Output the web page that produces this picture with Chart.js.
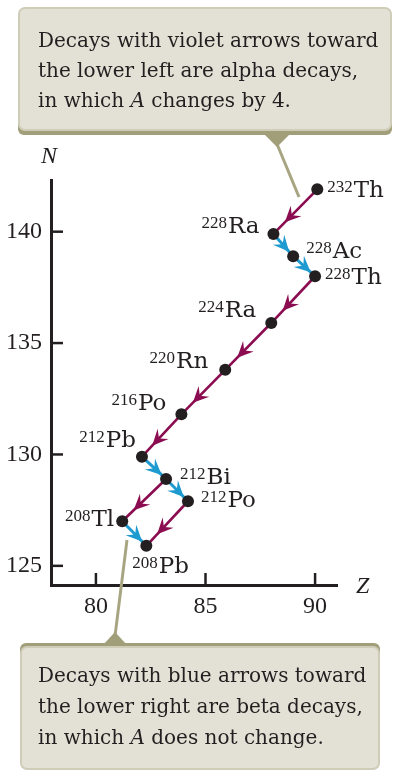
<!DOCTYPE html>
<html>
<head>
<meta charset="utf-8">
<script src="https://cdn.jsdelivr.net/npm/chart.js@4.4.1/dist/chart.umd.min.js"></script>
<style>
  body { margin: 0; background: #fff; }
  #wrap { width: 400px; height: 777px; }
</style>
</head>
<body>
<div id="wrap"><canvas id="decay-chart" width="400" height="777"></canvas></div>
<script>
/* Thorium series (Z = protons, N = neutrons) */
let nuclides = ['Th', 'Ra', 'Ac', 'Th', 'Ra', 'Rn', 'Po', 'Pb', 'Bi', 'Po', 'Tl', 'Pb']
let massNumbers = [232, 228, 228, 228, 224, 220, 216, 212, 212, 212, 208, 208]
let zValues = [90.1, 88.1, 89.0, 90.0, 88.0, 85.9, 83.9, 82.1, 83.2, 84.2, 81.2, 82.3]
let nValues = [141.9, 139.9, 138.9, 138.0, 135.9, 133.8, 131.8, 129.9, 128.9, 127.9, 127.0, 125.9]

// decays, as index of parent -> index of daughter
let alphaFrom = [0, 3, 4, 5, 6, 8, 9]
let alphaTo = [1, 4, 5, 6, 7, 10, 11]
let betaFrom = [1, 2, 7, 8, 10]
let betaTo = [2, 3, 8, 9, 11]

let zTicks = [80, 85, 90]
let nTicks = [125, 130, 135, 140]

let topNote = [['Decays with violet arrows toward'], ['the lower left are alpha decays,'], ['in which ', '*A', ' changes by 4.']]
let bottomNote = [['Decays with blue arrows toward'], ['the lower right are beta decays,'], ['in which ', '*A', ' does not change.']]

/* label placement next to each dot: side, x gap, baseline shift */
let labelSpots = [
    ['r', 10, 8], ['l', 14, -1], ['r', 13, 2], ['r', 10, 8], ['l', 15, -6], ['l', 17, -2],
    ['l', 15, -4], ['l', 6, -10], ['r', 14, 5], ['r', 13, 6], ['l', 8, 5], ['b', -14, 27]
]

let ink = '#231f20'
let violet = '#8b0c50'
let blue = '#1d9ad0'
let serif = '"Liberation Serif", "Times New Roman", serif'
let wideSerif = '"DejaVu Serif", serif'

function arrow(ctx, x1, y1, x2, y2, color, lineW, tipBack) {
    let dx = x2 - x1, dy = y2 - y1
    let len = Math.sqrt(dx * dx + dy * dy)
    let ux = dx / len, uy = dy / len
    let nx = -uy, ny = ux
    ctx.strokeStyle = color
    ctx.fillStyle = color
    ctx.lineWidth = lineW
    ctx.beginPath()
    ctx.moveTo(x1, y1)
    ctx.lineTo(x2, y2)
    ctx.stroke()
    let tipDist = tipBack < 1 ? len * tipBack : len - tipBack
    let tx = x1 + ux * tipDist, ty = y1 + uy * tipDist
    let L = 16, W = 7.5
    ctx.beginPath()
    ctx.moveTo(tx, ty)
    ctx.lineTo(tx - ux * L + nx * W, ty - uy * L + ny * W)
    ctx.lineTo(tx - ux * L * 0.62, ty - uy * L * 0.62)
    ctx.lineTo(tx - ux * L - nx * W, ty - uy * L - ny * W)
    ctx.closePath()
    ctx.fill()
}

function noteBox(ctx, x, y, w, h, shadowOnTop) {
    ctx.fillStyle = '#a19e7a'
    ctx.beginPath()
    if (shadowOnTop) ctx.roundRect(x, y - 3, w, h, 6)
    else ctx.roundRect(x, y + 4, w, h, 6)
    ctx.fill()
    ctx.fillStyle = '#e3e1d5'
    ctx.strokeStyle = '#cfcdb8'
    ctx.lineWidth = 2
    ctx.beginPath()
    ctx.roundRect(x + 1, y + 1, w - 2, h - 2, 6)
    ctx.fill()
    ctx.stroke()
}

function noteText(ctx, lines, x, y0, lineGap) {
    ctx.fillStyle = ink
    ctx.textBaseline = 'alphabetic'
    ctx.textAlign = 'left'
    lines.forEach(function (parts, i) {
        let cx = x
        parts.forEach(function (p) {
            let italic = p[0] === '*'
            let txt = italic ? p.slice(1) : p
            ctx.font = (italic ? 'italic ' : '') + '20px ' + wideSerif
            ctx.fillText(txt, cx, y0 + i * lineGap)
            cx += ctx.measureText(txt).width
        })
    })
}

let decorations = {
    id: 'decorations',
    beforeDatasetsDraw: function (chart) {
        let ctx = chart.ctx
        let xs = chart.scales.x, ys = chart.scales.y
        let area = chart.chartArea
        ctx.save()
        // inward tick marks
        ctx.strokeStyle = ink
        ctx.lineWidth = 2.5
        zTicks.forEach(function (v) {
            let px = xs.getPixelForValue(v)
            ctx.beginPath(); ctx.moveTo(px, area.bottom); ctx.lineTo(px, area.bottom - 12); ctx.stroke()
        })
        nTicks.forEach(function (v) {
            let py = ys.getPixelForValue(v)
            ctx.beginPath(); ctx.moveTo(area.left, py); ctx.lineTo(area.left + 12, py); ctx.stroke()
        })
        // axis names
        ctx.fillStyle = ink
        ctx.font = 'italic 24px ' + serif
        ctx.textAlign = 'left'
        ctx.fillText('N', 41, 163)
        ctx.fillText('Z', 356, 593)

        // callout pointers
        ctx.strokeStyle = '#a8a582'
        ctx.lineWidth = 3
        ctx.beginPath(); ctx.moveTo(277, 144); ctx.lineTo(299, 197); ctx.stroke()
        ctx.beginPath(); ctx.moveTo(115, 636); ctx.lineTo(127, 540); ctx.stroke()

        // decay arrows
        for (let i = 0; i < alphaFrom.length; i++) {
            let a = alphaFrom[i], b = alphaTo[i]
            arrow(ctx, xs.getPixelForValue(zValues[a]), ys.getPixelForValue(nValues[a]),
                xs.getPixelForValue(zValues[b]), ys.getPixelForValue(nValues[b]), violet, 2.6, 0.74)
        }
        for (let i = 0; i < betaFrom.length; i++) {
            let a = betaFrom[i], b = betaTo[i]
            arrow(ctx, xs.getPixelForValue(zValues[a]), ys.getPixelForValue(nValues[a]),
                xs.getPixelForValue(zValues[b]), ys.getPixelForValue(nValues[b]), blue, 3, 6)
        }
        ctx.restore()
    },
    afterDatasetsDraw: function (chart) {
        let ctx = chart.ctx
        let xs = chart.scales.x, ys = chart.scales.y
        ctx.save()
        ctx.fillStyle = ink
        ctx.textBaseline = 'alphabetic'
        ctx.textAlign = 'left'
        for (let i = 0; i < nuclides.length; i++) {
            let px = xs.getPixelForValue(zValues[i])
            let py = ys.getPixelForValue(nValues[i])
            let sup = String(massNumbers[i])
            ctx.font = '17px ' + serif
            let supW = ctx.measureText(sup).width + 1
            ctx.font = '23px ' + wideSerif
            let symW = ctx.measureText(nuclides[i]).width
            let spot = labelSpots[i]
            let x0
            if (spot[0] === 'r') x0 = px + spot[1]
            else if (spot[0] === 'l') x0 = px - spot[1] - supW - symW
            else x0 = px + spot[1]
            let base = py + spot[2]
            ctx.font = '17px ' + serif
            ctx.fillText(sup, x0, base - 5)
            ctx.font = '23px ' + wideSerif
            ctx.fillText(nuclides[i], x0 + supW, base)
        }

        // callout boxes
        noteBox(ctx, 18, 7, 374, 124, false)
        ctx.fillStyle = '#a19e7a'
        ctx.beginPath(); ctx.moveTo(262, 132); ctx.lineTo(292, 132); ctx.lineTo(277, 147); ctx.closePath(); ctx.fill()
        noteText(ctx, topNote, 38, 47, 30)

        ctx.fillStyle = '#a19e7a'
        ctx.beginPath(); ctx.moveTo(103, 645); ctx.lineTo(127, 645); ctx.lineTo(115, 632); ctx.closePath(); ctx.fill()
        noteBox(ctx, 20, 646, 360, 124, true)
        noteText(ctx, bottomNote, 38, 682, 31)
        ctx.restore()
    }
}

let points = zValues.map(function (z, i) { return { x: z, y: nValues[i] } })

let ctx = document.querySelector('#decay-chart').getContext('2d')

let decayChart = new Chart(ctx, {
    type: 'scatter',
    data: {
        datasets: [
            {
                data: points,
                pointRadius: 6,
                pointHoverRadius: 6,
                backgroundColor: ink,
                borderWidth: 0
            }
        ]
    },
    options: {
        responsive: false,
        animation: false,
        layout: { padding: { top: 180, right: 63, left: 0, bottom: 0 } },
        plugins: { legend: { display: false }, tooltip: { enabled: false } },
        scales: {
            x: {
                type: 'linear',
                min: 77.95,
                max: 91,
                afterBuildTicks: function (scale) { scale.ticks = zTicks.map(function (v) { return { value: v } }) },
                afterFit: function (scale) { scale.height = 192 },
                grid: { display: false, drawTicks: false },
                border: { display: true, color: ink, width: 3 },
                ticks: { color: ink, padding: 7, font: { family: serif, size: 24 } }
            },
            y: {
                type: 'linear',
                min: 124.14,
                max: 142.32,
                afterBuildTicks: function (scale) { scale.ticks = nTicks.map(function (v) { return { value: v } }) },
                afterFit: function (scale) { scale.width = 51 },
                grid: { display: false, drawTicks: false },
                border: { display: true, color: ink, width: 3 },
                ticks: { color: ink, padding: 9, font: { family: serif, size: 24 } }
            }
        }
    },
    plugins: [decorations]
})
</script>
</body>
</html>
